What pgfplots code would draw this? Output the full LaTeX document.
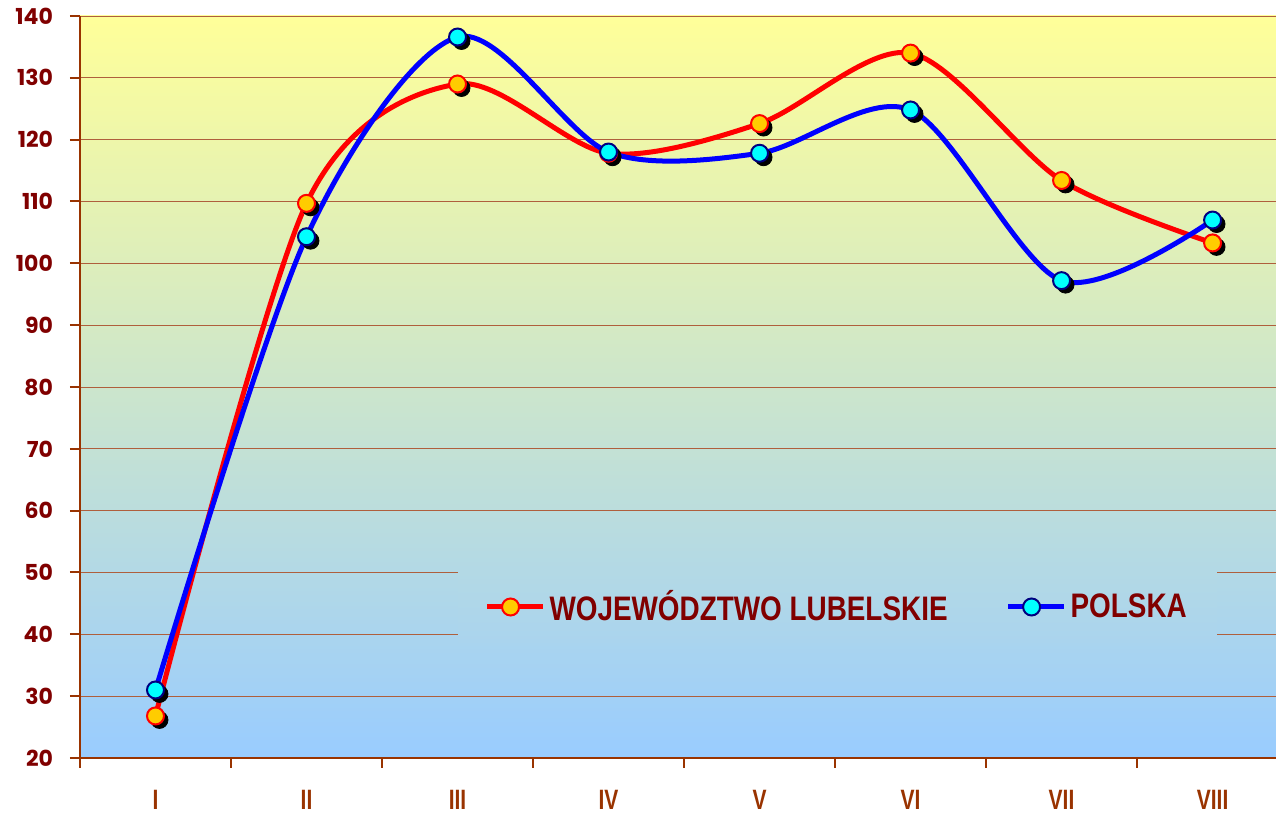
\documentclass[border=0pt]{standalone}
\usepackage{pgfplots}
\usepackage{pgfplotstable}
\pgfplotsset{compat=1.18}
\usepackage{fontspec}
\setmainfont{Liberation Sans}
\newfontfamily\tickfont{Poppins}
\newfontfamily\romfont{Liberation Sans}[FakeStretch=0.75]
\newfontfamily\legfont{Liberation Sans}[FakeStretch=0.82]
\usetikzlibrary{calc}
\definecolor{axbrown}{RGB}{153,51,0}
\definecolor{labred}{RGB}{128,0,0}
\definecolor{bgtop}{RGB}{255,255,153}
\definecolor{bgbot}{RGB}{153,204,255}
\definecolor{legtop}{RGB}{179,217,229}
\definecolor{legbot}{RGB}{170,212,238}
\definecolor{mkyellow}{RGB}{255,204,0}
\definecolor{mkcyan}{RGB}{0,255,255}
\definecolor{navyb}{RGB}{0,0,128}
\definecolor{gridc}{RGB}{175,95,60}

\pgfplotstableread{
x lub pol
1 26.8 31.0
2 109.7 104.3
3 129.0 136.6
4 117.8 118.0
5 122.6 117.8
6 134.0 124.8
7 113.4 97.2
8 103.3 107.0
}\data

\begin{document}
\begin{tikzpicture}
\begin{axis}[
  scale only axis, width=598pt, height=371pt,
  xmin=0.5, xmax=8.42, ymin=20, ymax=140,
  axis x line*=bottom, axis y line*=left,
  axis line style={axbrown, line width=1pt},
  tick style={axbrown, line width=1pt},
  tick align=outside,
  major tick length=5pt,
  ytick={20,30,...,140},
  ymajorgrids,
  grid style={gridc, line width=0.4pt},
  xtick={0.5,1.5,...,7.5}, xticklabels={},
  extra x ticks={1,2,3,4,5,6,7,8},
  extra x tick labels={I,II,III,IV,V,VI,VII,VIII},
  extra x tick style={major tick length=0pt, grid=none,
     xticklabel style={font=\romfont\bfseries\fontsize{14}{16}\selectfont, text=axbrown, yshift=-12.5pt}},
  /pgf/number format/assume math mode=true,
  yticklabel style={font=\tickfont\bfseries\fontsize{11}{12}\selectfont, text=labred, xshift=-5pt},
  axis background/.style={top color=bgtop, bottom color=bgbot},
  legend columns=2,
  legend style={at={(0.6335,0.2035)}, anchor=center, draw=none, top color=legtop, bottom color=legbot,
     font=\legfont\bfseries\fontsize{17}{19}\selectfont, text=labred,
     inner xsep=13pt, inner ysep=7.5pt,
     /tikz/every even column/.append style={column sep=27pt}},
  legend image code/.code={\draw[mark repeat=2,mark phase=2,#1] plot coordinates {(0pt,0pt)(11.75pt,0pt)(23.5pt,0pt)};
     \path (23.5pt,0pt) -- (28pt,0pt);},
  clip=false,
]
\addplot[forget plot, only marks, mark=*, mark size=4.25pt, black, mark options={xshift=2pt,yshift=-2pt}] table[x=x,y=lub]{\data};
\addplot[forget plot, only marks, mark=*, mark size=4.25pt, black, mark options={xshift=2pt,yshift=-2pt}] table[x=x,y=pol]{\data};
\addplot[red, line width=2.5pt, smooth, mark=*, mark size=4.25pt, mark options={fill=mkyellow, draw=red, line width=1pt}] table[x=x,y=lub]{\data};
\addlegendentry{WOJEWÓDZTWO LUBELSKIE}
\addplot[blue, line width=2.5pt, smooth, mark=*, mark size=4.25pt, mark options={fill=mkcyan, draw=navyb, line width=1pt}] table[x=x,y=pol]{\data};
\addlegendentry{POLSKA}
\end{axis}
\pgfresetboundingbox
\path ($(current axis.south west)+(-40pt,-27.5pt)$) rectangle ($(current axis.north east)+(0pt,8pt)$);
\end{tikzpicture}
\end{document}
